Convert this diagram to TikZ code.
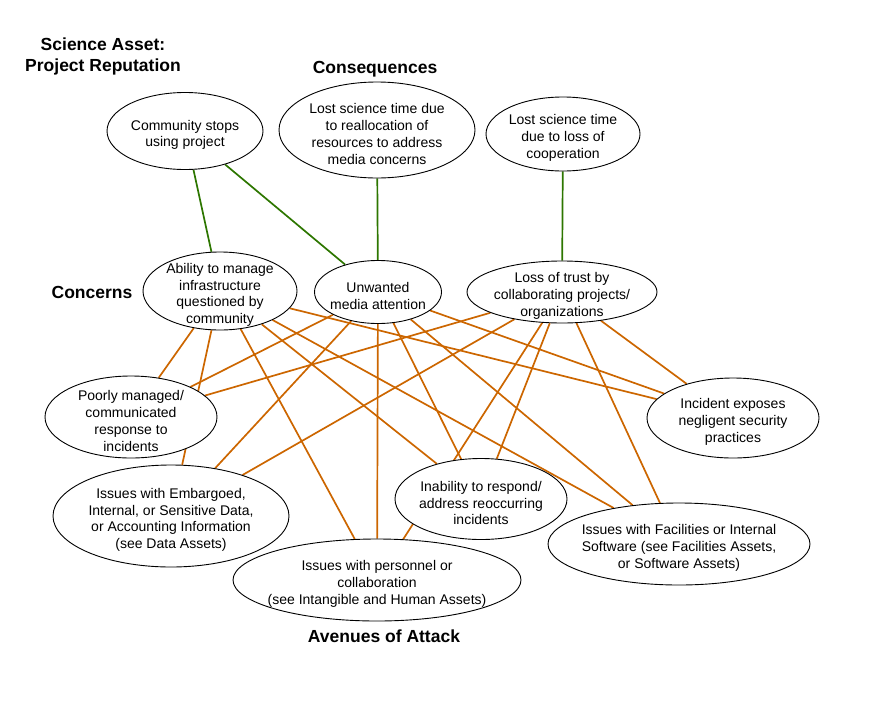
\documentclass[tikz,border=0pt]{standalone}
\usepackage{fontspec}
\setmainfont{Liberation Sans}
\usetikzlibrary{shapes.geometric,backgrounds}
\definecolor{linkgreen}{HTML}{2D7600}
\definecolor{linkorange}{HTML}{CC6600}
\begin{document}
\begin{tikzpicture}[x=1pt,y=-1pt,
  % the ellipse keeps its given size; the wording sits on top as a centred label
  bubble/.style n args={3}{ellipse,draw=black,line width=0.9pt,fill=white,inner sep=0pt,
    minimum width=#1,minimum height=#2,
    label={[align=center,inner sep=0pt,yshift=-4pt,font=\fontsize{14}{16.7}\selectfont]center:#3}},
  heading/.style={align=center,font=\fontsize{17.5}{21}\selectfont\bfseries},
  impact/.style={draw=linkgreen,line width=1.7pt},
  attack/.style={draw=linkorange,line width=1.7pt}]
\useasboundingbox (0,0) rectangle (891,723);

% section headings
\node[heading] (hasset) at (103,56) {Science Asset:\\Project Reputation};
\node[heading] (hcons) at (375,69) {Consequences};
\node[heading] (hconc) at (92,292) {Concerns};
\node[heading] (havenue) at (384,636) {Avenues of Attack};

% consequences
\node[bubble={156pt}{77pt}{Community stops\\using project}] (comm) at (185,131) {};
\node[bubble={196pt}{96pt}{Lost science time due\\to reallocation of\\resources to address\\media concerns}] (realloc) at (377,130) {};
\node[bubble={154pt}{74pt}{Lost science time\\due to loss of\\cooperation}] (coop) at (563,134) {};

% concerns
\node[bubble={154pt}{78pt}{Ability to manage\\infrastructure\\questioned by\\community}] (ability) at (220,291) {};
\node[bubble={127pt}{63pt}{Unwanted\\media attention}] (media) at (378,292) {};
\node[bubble={190pt}{62pt}{Loss of trust by\\collaborating projects/\\organizations}] (trust) at (562,292) {};

% avenues of attack
\node[bubble={172pt}{82pt}{Poorly managed/\\communicated\\response to\\incidents}] (poorly) at (131,417) {};
\node[bubble={172pt}{80pt}{Incident exposes\\negligent security\\practices}] (negligent) at (733,418) {};
\node[bubble={236pt}{102pt}{Issues with Embargoed,\\Internal, or Sensitive Data,\\or Accounting Information\\(see Data Assets)}] (embargo) at (171,516) {};
\node[bubble={172pt}{81pt}{Inability to respond/\\address reoccurring\\incidents}] (inability) at (481,499) {};
\node[bubble={262pt}{82pt}{Issues with Facilities or Internal\\Software (see Facilities Assets,\\or Software Assets)}] (facil) at (679,544) {};
\node[bubble={288pt}{82pt}{Issues with personnel or\\collaboration\\(see Intangible and Human Assets)}] (personnel) at (377,580) {};

\begin{scope}[on background layer]
  % concerns leading to consequences
  \draw[impact] (comm) -- (ability);
  \draw[impact] (comm) -- (media);
  \draw[impact] (realloc) -- (media);
  \draw[impact] (coop) -- (trust);
  % avenues of attack feeding each concern
  \foreach \c in {ability,media,trust}
    \foreach \a in {poorly,embargo,personnel,inability,facil,negligent}
      \draw[attack] (\c) -- (\a);
\end{scope}
\end{tikzpicture}
\end{document}
